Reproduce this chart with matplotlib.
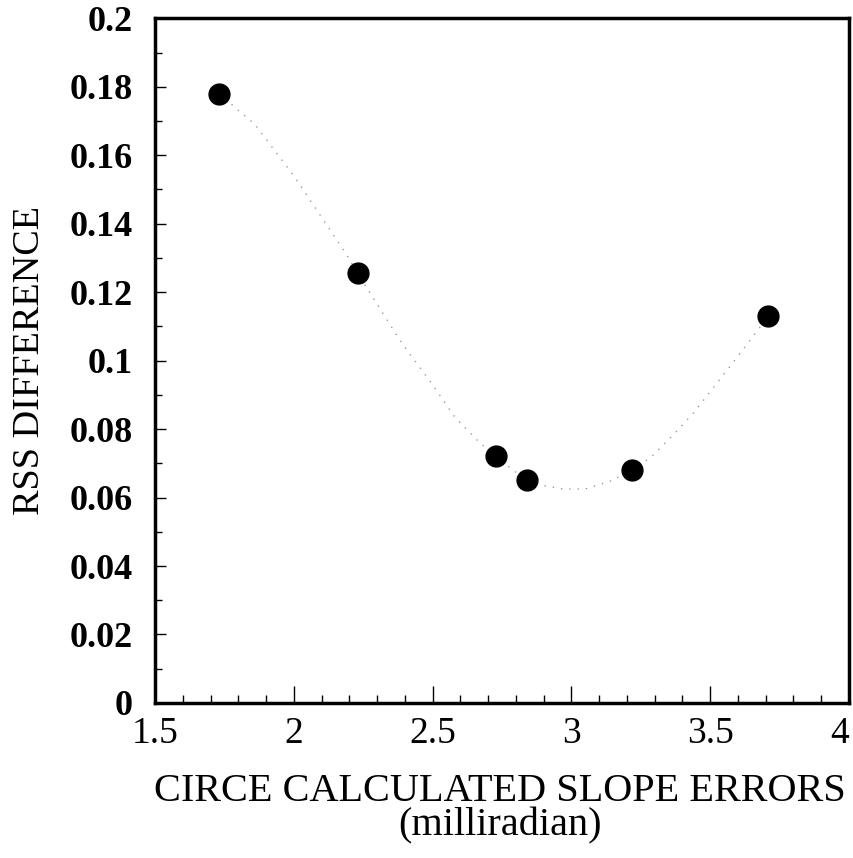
import numpy as np
import matplotlib.pyplot as plt
from matplotlib.ticker import MultipleLocator

plt.rcParams['font.family'] = 'Liberation Serif'

# measured slope errors vs RSS difference
slope_err = [1.73, 2.23, 2.73, 2.84, 3.22, 3.71]
rss_diff = [0.178, 0.1255, 0.072, 0.065, 0.068, 0.113]

# faint smoothed curve through the points
curve_x = [1.73, 1.86, 2.00, 2.19, 2.23, 2.39, 2.50, 2.58, 2.67, 2.73, 2.79,
           2.84, 2.90, 2.97, 3.05, 3.14, 3.22, 3.29, 3.38, 3.44, 3.53, 3.62, 3.71]
curve_y = [0.178, 0.169, 0.154, 0.131, 0.1255, 0.105, 0.093, 0.0835, 0.076,
           0.072, 0.068, 0.065, 0.0635, 0.0625, 0.0625, 0.0648, 0.068, 0.072,
           0.0794, 0.0847, 0.094, 0.1034, 0.113]

fig = plt.figure(figsize=(8.54, 8.58), dpi=100)
ax = fig.add_axes([0.1815, 0.1807, 0.8125, 0.798])

ax.plot(curve_x, curve_y, color='#999999', lw=1, ls=(0, (1, 5)))
ax.plot(slope_err, rss_diff, 'o', color='black', ms=15, mec='black')

ax.set_xlim(1.5, 4)
ax.set_ylim(0, 0.2)
ax.xaxis.set_minor_locator(MultipleLocator(0.1))
ax.yaxis.set_minor_locator(MultipleLocator(0.01))
ax.set_xticks([1.5, 2, 2.5, 3, 3.5, 4])
ax.set_xticklabels(['1.5', '2', '2.5', '3', '3.5', '4'])
ax.set_yticks([0, 0.02, 0.04, 0.06, 0.08, 0.1, 0.12, 0.14, 0.16, 0.18, 0.2])
ax.set_yticklabels(['0', '0.02', '0.04', '0.06', '0.08', '0.1', '0.12', '0.14',
                    '0.16', '0.18', '0.2'], fontweight='bold')

ax.tick_params(axis='both', which='both', direction='in', top=False, right=False)
ax.tick_params(axis='y', which='major', length=8, width=1, labelsize=26, pad=16)
ax.tick_params(axis='y', which='minor', length=5, width=1)
ax.tick_params(axis='x', which='major', length=12, width=1, labelsize=27, pad=10)
ax.tick_params(axis='x', which='minor', length=6, width=1)
ax.get_xticklabels()[-1].set_ha('right')
for s in ax.spines.values():
    s.set_linewidth(2.5)

ax.set_ylabel('RSS DIFFERENCE', fontsize=27.5, labelpad=16)
ax.set_xlabel('CIRCE CALCULATED SLOPE ERRORS\n(milliradian)', fontsize=29,
              linespacing=0.9)
ax.xaxis.set_label_coords(0.497, -0.103, transform=ax.transAxes)
ax.xaxis.label.set_va('top')

plt.savefig('out.png', dpi=100)
